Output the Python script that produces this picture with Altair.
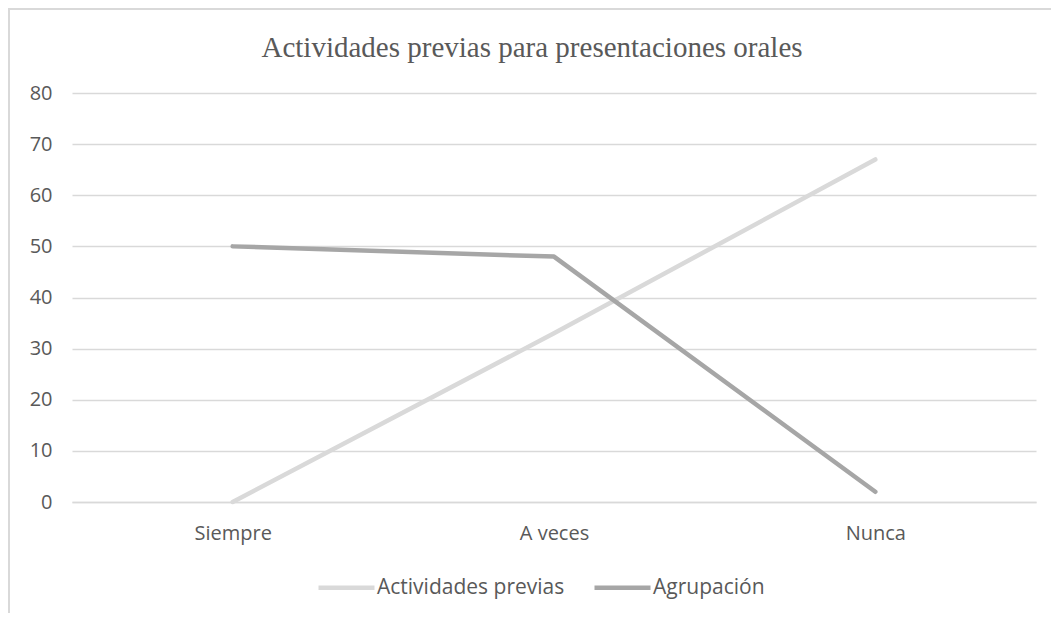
import altair as alt
import pandas as pd

categories = ["Siempre", "A veces", "Nunca"]
series_names = ["Actividades previas", "Agrupación"]
actividades_previas = [0, 33, 67]
agrupacion = [50, 48, 2]
y_ticks = [0, 10, 20, 30, 40, 50, 60, 70, 80]

rows = []
for c, v in zip(categories, actividades_previas):
    rows.append({"categoria": c, "serie": series_names[0], "valor": v})
for c, v in zip(categories, agrupacion):
    rows.append({"categoria": c, "serie": series_names[1], "valor": v})
df = pd.DataFrame(rows)

TXT = "#595959"
GRID = "#d9d9d9"
FONT = "Open Sans"
FS = 20

lines = alt.Chart(df).mark_line(strokeWidth=4.5, strokeCap="round", strokeJoin="round").encode(
    x=alt.X("categoria:N", sort=categories, title=None,
            scale=alt.Scale(type="point", padding=0.5),
            axis=alt.Axis(labelAngle=0, ticks=False, domain=True, domainColor=GRID, domainWidth=1.5,
                          labelFont=FONT, labelFontSize=FS, labelColor=TXT, labelPadding=21,
                          grid=False)),
    y=alt.Y("valor:Q", title=None,
            scale=alt.Scale(domain=[0, 80], nice=False),
            axis=alt.Axis(values=y_ticks, ticks=False, domain=False, grid=True, gridColor=GRID,
                          gridWidth=1.5, labelFont=FONT, labelFontSize=FS, labelColor=TXT,
                          labelPadding=20)),
    color=alt.Color("serie:N", sort=series_names,
                    scale=alt.Scale(domain=series_names, range=["#d9d9d9", "#a6a6a6"]),
                    legend=alt.Legend(title=None, orient="none", direction="horizontal",
                                      legendX=244, legendY=464, symbolType="stroke",
                                      symbolSize=3136, symbolStrokeWidth=4.5, symbolOffset=0,
                                      labelFont=FONT, labelFontSize=21, labelColor=TXT,
                                      labelOffset=0, labelLimit=400, columnPadding=20)),
)

border = alt.Chart(pd.DataFrame({"k": [0]})).mark_rule(color=GRID, strokeWidth=2).encode(
    x=alt.value(-64), x2=alt.value(980), y=alt.value(-84)
)
border_left = alt.Chart(pd.DataFrame({"k": [0]})).mark_rule(color=GRID, strokeWidth=2).encode(
    x=alt.value(-63), y=alt.value(-85), y2=alt.value(520)
)

chart = alt.layer(border, border_left, lines).properties(
    width=964, height=409,
    autosize=alt.AutoSizeParams(type="none"),
    padding={"left": 64, "top": 85, "right": 15, "bottom": 111},
    title=alt.TitleParams("Actividades previas para presentaciones orales",
                          font="Liberation Serif", fontSize=29, fontWeight="normal",
                          color=TXT, anchor="middle", dx=-22, offset=0, dy=56),
).configure_view(stroke=None)

chart.save("out.html", embed_options={"renderer": "svg", "actions": False})
